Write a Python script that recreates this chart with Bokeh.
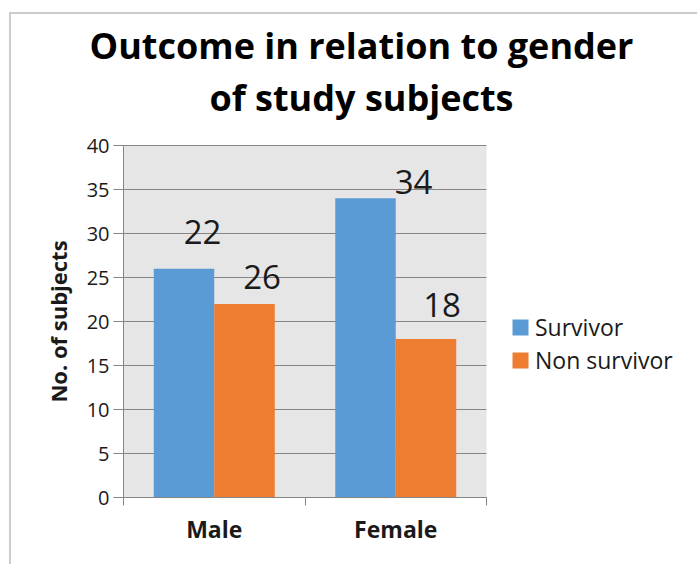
import math
from bokeh.plotting import figure
from bokeh.models import (Range1d, FixedTicker, ColumnDataSource, Legend, LegendItem,
                          LabelSet, Label)
from bokeh.core.properties import value
from bokeh.transform import dodge
from bokeh.embed import file_html
from bokeh.resources import INLINE

# ---- data ----
genders = ["Male", "Female"]
survivors = [26, 34]
non_survivors = [22, 18]
series_names = ["Survivor", "Non survivor"]
y_ticks = [0, 5, 10, 15, 20, 25, 30, 35, 40]
title_lines = ["Outcome in relation to gender", "of study subjects"]
y_title = "No. of subjects"

# ---- layout / style ----
W, H = 697, 564
LEFT, BOTTOM = 123, 67          # pixel position of the value/category origin
AREA_W, AREA_H = 363, 352       # size of the shaded plotting area in pixels
FONT = "Open Sans"
BLUE, ORANGE = "#5b9bd5", "#ed7d31"
AREA_BG = "#e6e6e6"
GRID = "#868686"
TEXT = "#1a1a1a"
EDGE = "#cccccc"

n_cat = len(genders)
y_max = y_ticks[-1]
x_pos = [i + 0.5 for i in range(n_cat)]
cat_edges = list(range(n_cat + 1))

# the frame covers the whole canvas; axes are pinned at the data origin
p = figure(width=W, height=H, title=None,
           x_range=Range1d(-LEFT * n_cat / AREA_W, (W - LEFT) * n_cat / AREA_W),
           y_range=Range1d(-BOTTOM * y_max / AREA_H, (H - BOTTOM) * y_max / AREA_H),
           output_backend="svg", toolbar_location=None, min_border=0,
           background_fill_alpha=0, border_fill_alpha=0, outline_line_color=None,
           # thin light frame around the whole chart
           styles={"background":
                   f"linear-gradient({EDGE},{EDGE}) 9px 12px / 2px 100% no-repeat, "
                   f"linear-gradient({EDGE},{EDGE}) 9px 12px / 100% 2px no-repeat, white"})
p.grid.visible = False

# plotting area and horizontal gridlines
p.quad(left=0, right=n_cat, bottom=0, top=y_max, fill_color=AREA_BG, line_color=None)
p.segment(x0=[0] * len(y_ticks), x1=[n_cat] * len(y_ticks), y0=y_ticks, y1=y_ticks,
          line_color=GRID, line_width=1.2)

# y axis
ya = p.yaxis[0]
ya.fixed_location = 0
ya.bounds = (0, y_max)
ya.ticker = FixedTicker(ticks=y_ticks)
ya.axis_line_color = GRID
ya.major_tick_line_color = GRID
ya.major_tick_out = 10
ya.major_tick_in = 0
ya.minor_tick_line_color = None
ya.major_label_text_font = FONT
ya.major_label_text_font_size = "20px"
ya.major_label_text_color = TEXT
ya.major_label_standoff = 4

# x axis: names at category centres, ticks at category boundaries
xa = p.xaxis[0]
xa.fixed_location = 0
xa.bounds = (0, n_cat)
xa.ticker = FixedTicker(ticks=x_pos, minor_ticks=cat_edges)
xa.major_label_overrides = {c: g for c, g in zip(x_pos, genders)}
xa.axis_line_color = GRID
xa.major_tick_line_color = None
xa.major_tick_out = 0
xa.minor_tick_line_color = GRID
xa.minor_tick_out = 8
xa.minor_tick_in = 0
xa.major_label_text_font = FONT
xa.major_label_text_font_style = "bold"
xa.major_label_text_font_size = "23px"
xa.major_label_text_color = TEXT
xa.major_label_standoff = 7

src = ColumnDataSource(dict(x=x_pos, survivors=survivors, non_survivors=non_survivors,
                            s_text=[str(v) for v in survivors],
                            n_text=[str(v) for v in non_survivors],
                            s_dx=[78, 48], s_dy=[-8, 16],
                            n_dx=[-42, 16], n_dy=[72, 34]))

r_s = p.vbar(x=dodge("x", -1/6), top="survivors", width=1/3,
             source=src, fill_color=BLUE, line_color=None)
r_n = p.vbar(x=dodge("x", 1/6), top="non_survivors", width=1/3,
             source=src, fill_color=ORANGE, line_color=None)

# value labels, each placed next to its bar
for col, off, txt, dx, dy in (("survivors", -1/6, "s_text", "s_dx", "s_dy"),
                              ("non_survivors", 1/6, "n_text", "n_dx", "n_dy")):
    p.add_layout(LabelSet(x=dodge("x", off), y=col, text=txt,
                          x_offset=dx, y_offset=dy, source=src,
                          text_align="center", text_baseline="middle",
                          text_font=value(FONT), text_font_size=value("33px"),
                          text_color=value(TEXT)))

# legend, positioned in pixels from the canvas' bottom-left corner
legend = Legend(items=[LegendItem(label=series_names[0], renderers=[r_s]),
                       LegendItem(label=series_names[1], renderers=[r_n])],
                location=(510, 188), orientation="vertical",
                border_line_color=None, background_fill_alpha=0,
                padding=0, margin=0, spacing=1,
                glyph_width=20, glyph_height=20, label_height=20, label_standoff=5,
                label_text_font=FONT, label_text_font_size="23px", label_text_color=TEXT)
p.add_layout(legend)

# value-axis title
p.add_layout(Label(x=57, y=H - 321, x_units="screen", y_units="screen", angle=math.pi / 2,
                   text=y_title, text_align="center", text_baseline="middle",
                   text_font=FONT, text_font_style="bold", text_font_size="22px",
                   text_color=TEXT))

# two-line chart title
for line, y_px in zip(title_lines, (45, 97)):
    p.add_layout(Label(x=361, y=H - y_px, x_units="screen", y_units="screen",
                       text=line, text_align="center", text_baseline="middle",
                       text_font=FONT, text_font_style="bold", text_font_size="36px",
                       text_color="#000000"))

open("out.html", "w").write(file_html(p, INLINE))
